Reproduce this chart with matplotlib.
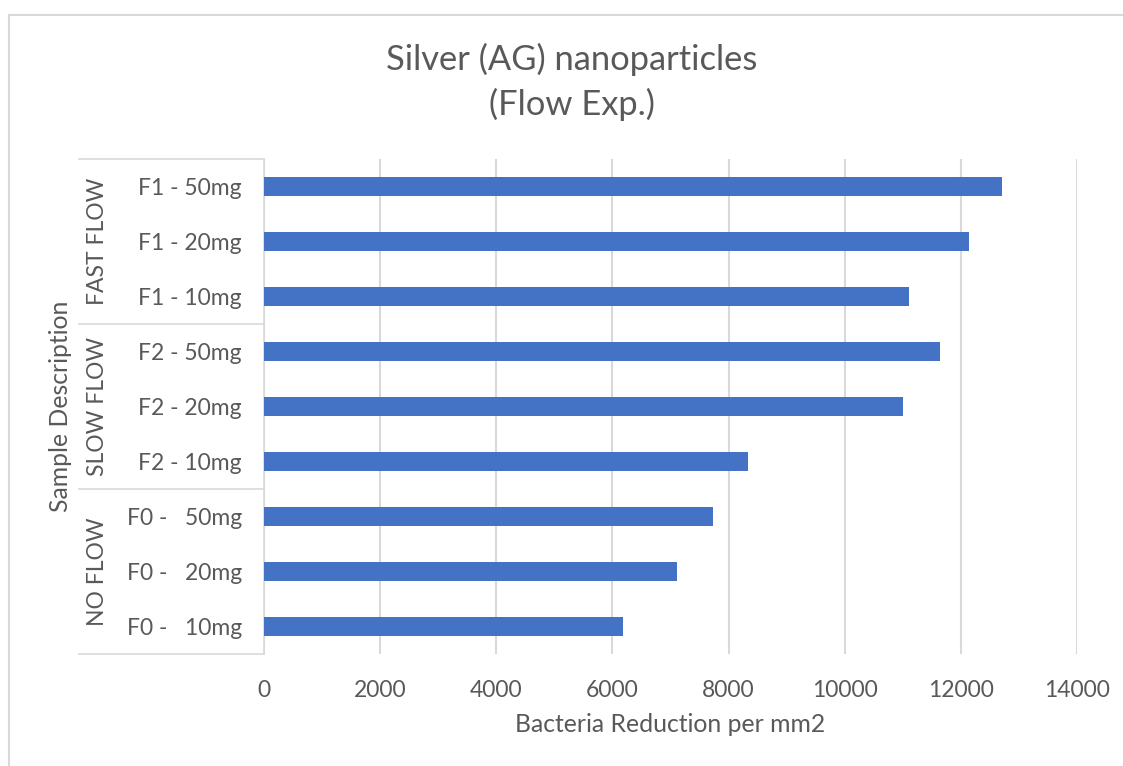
import matplotlib
matplotlib.use('Agg')
import matplotlib.pyplot as plt
from matplotlib.lines import Line2D

# samples listed bottom to top
samples = ['F0 -   10mg', 'F0 -   20mg', 'F0 -   50mg',
           'F2 - 10mg', 'F2 - 20mg', 'F2 - 50mg',
           'F1 - 10mg', 'F1 - 20mg', 'F1 - 50mg']
reduction = [6180, 7115, 7730, 8330, 11000, 11645, 11105, 12135, 12700]
groups = ['NO FLOW', 'SLOW FLOW', 'FAST FLOW']

plt.rcParams['font.family'] = ['Lato', 'DejaVu Sans']
txt = '#595959'
grid = '#D9D9D9'
W, H = 1123, 766

fig = plt.figure(figsize=(W / 100, H / 100), dpi=100)
ax = fig.add_axes([264 / W, (H - 654) / H, (1077 - 264) / W, (654 - 159) / H])

y = range(len(samples))
ax.barh(y, reduction, height=0.35, color='#4472C4', zorder=3)
ax.set_ylim(-0.5, len(samples) - 0.5)
ax.set_xlim(0, 14000)
ax.set_xticks(range(0, 14001, 2000))
ax.set_yticks(list(y))
ax.set_yticklabels(samples)
ax.tick_params(axis='both', length=0, labelsize=16.5, colors=txt)
ax.tick_params(axis='y', pad=16)
ax.tick_params(axis='x', pad=19)
ax.xaxis.grid(True, color=grid, linewidth=1.5, zorder=0)
for s in ['top', 'right', 'bottom']:
    ax.spines[s].set_visible(False)
ax.spines['left'].set_color(grid)
ax.spines['left'].set_linewidth(1.2)

ax.set_xlabel('Bacteria Reduction per mm2', fontsize=17.8, color=txt, labelpad=8)

# grouped category boxes left of the tick labels
span = 1077 - 264
x0 = (79 - 264) / span
n = len(samples)
for k in range(len(groups) + 1):
    yy = k * 3 / n
    ax.add_line(Line2D([x0, 0], [yy, yy], transform=ax.transAxes,
                       color=grid, linewidth=1.2, clip_on=False))
for k, g in enumerate(groups):
    ax.text((97 - 264) / span, (k * 3 + 1.5) / n, g, transform=ax.transAxes,
            rotation=90, ha='center', va='center', fontsize=16.5, color=txt)
ax.text((61 - 264) / span, 0.5, 'Sample Description', transform=ax.transAxes,
        rotation=90, ha='center', va='center', fontsize=17.8, color=txt)

fig.text(572 / W, 1 - 82 / H, 'Silver (AG) nanoparticles\n(Flow Exp.)',
         ha='center', va='center', fontsize=24.8, color=txt, linespacing=1.42)

# outer chart border (top and left edges)
fig.add_artist(Line2D([9 / W, 1], [1 - 15 / H, 1 - 15 / H], color=grid, linewidth=1.5))
fig.add_artist(Line2D([9 / W, 9 / W], [0, 1 - 15 / H], color=grid, linewidth=1.5))

fig.savefig('out.png', dpi=100, facecolor='white')
